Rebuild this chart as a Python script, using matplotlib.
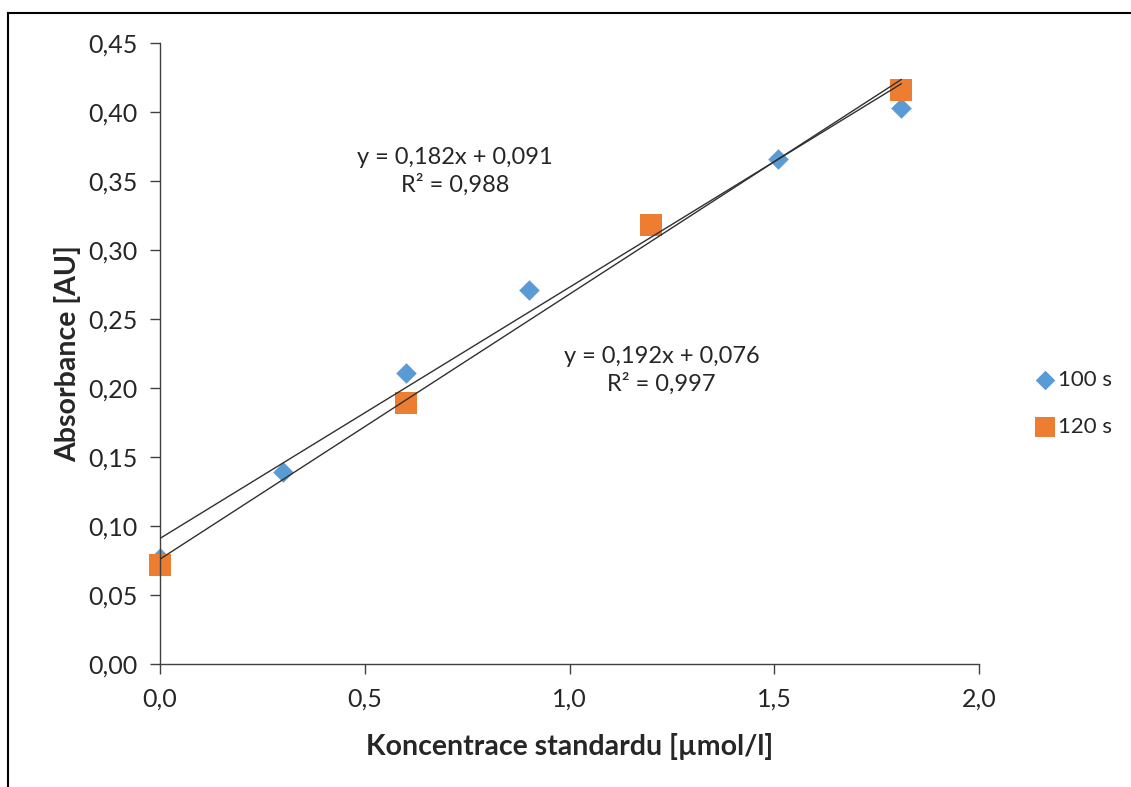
import numpy as np
import matplotlib
matplotlib.use('Agg')
import matplotlib.pyplot as plt
from matplotlib.lines import Line2D
from matplotlib.ticker import FuncFormatter

matplotlib.rcParams['font.family'] = ['Lato', 'DejaVu Sans']

# data
x_100 = [0.0, 0.3, 0.6, 0.9, 1.51, 1.81]
y_100 = [0.077, 0.139, 0.211, 0.271, 0.366, 0.403]
x_120 = [0.0, 0.6, 1.2, 1.81]
y_120 = [0.072, 0.189, 0.318, 0.416]
fit_100 = [0.182, 0.091]   # slope, intercept
fit_120 = [0.192, 0.076]
eq_100 = 'y = 0,182x + 0,091\nR² = 0,988'
eq_120 = 'y = 0,192x + 0,076\nR² = 0,997'
x_ticks = [0.0, 0.5, 1.0, 1.5, 2.0]
y_ticks = [0.00, 0.05, 0.10, 0.15, 0.20, 0.25, 0.30, 0.35, 0.40, 0.45]

blue = '#5B9BD5'
orange = '#ED7D31'
txt = '#262626'
axc = '#404040'

fig = plt.figure(figsize=(11.31, 7.87), dpi=100)
ax = fig.add_axes([160/1131, 1-664/787, (979-160)/1131, (664-43)/787])

# trend lines
xl = np.array([min(x_100), max(x_100)])
ax.plot(xl, fit_100[0]*xl + fit_100[1], color='#303030', lw=1.0, zorder=3)
xl = np.array([min(x_120), max(x_120)])
ax.plot(xl, fit_120[0]*xl + fit_120[1], color='#303030', lw=1.0, zorder=3)

ax.scatter(x_100, y_100, marker='D', s=110, color=blue, linewidths=0, zorder=2, label='100 s', clip_on=False)
ax.scatter(x_120, y_120, marker='s', s=240, color=orange, linewidths=0, zorder=2, label='120 s', clip_on=False)

ax.text(0.72, 0.357, eq_100, ha='center', va='center', fontsize=17, color=txt, linespacing=1.3)
ax.text(1.225, 0.213, eq_120, ha='center', va='center', fontsize=17, color=txt, linespacing=1.3)

ax.set_xlim(0, 2.0)
ax.set_ylim(0, 0.45)
ax.set_xticks(x_ticks)
ax.set_yticks(y_ticks)
ax.xaxis.set_major_formatter(FuncFormatter(lambda v, p: f'{v:.1f}'.replace('.', ',')))
ax.yaxis.set_major_formatter(FuncFormatter(lambda v, p: f'{v:.2f}'.replace('.', ',')))
ax.tick_params(axis='both', direction='out', length=7, width=1, color=axc, labelsize=18, labelcolor=txt)
ax.tick_params(axis='x', pad=10)
ax.tick_params(axis='y', pad=9)
for s in ['top', 'right']:
    ax.spines[s].set_visible(False)
for s in ['left', 'bottom']:
    ax.spines[s].set_color(axc)
    ax.spines[s].set_linewidth(1)

ax.set_xlabel('Koncentrace standardu [µmol/l]', fontsize=20.5, fontweight='bold', color=txt, labelpad=16)
ax.set_ylabel('Absorbance [AU]', fontsize=20.5, fontweight='bold', color=txt, labelpad=5)

leg = ax.legend(loc='center left', bbox_to_anchor=(1.04, 0.42), frameon=False, fontsize=16,
                handletextpad=0.0, labelspacing=1.2, markerscale=0.95, handlelength=1.2)
for t in leg.get_texts():
    t.set_color(txt)

# outer frame of the chart area
fig.add_artist(Line2D([8/1131, 8/1131], [0, 1-13/787], transform=fig.transFigure, color='black', lw=1.5))
fig.add_artist(Line2D([8/1131, 1], [1-13/787, 1-13/787], transform=fig.transFigure, color='black', lw=1.5))

fig.savefig('out.png', dpi=100)
